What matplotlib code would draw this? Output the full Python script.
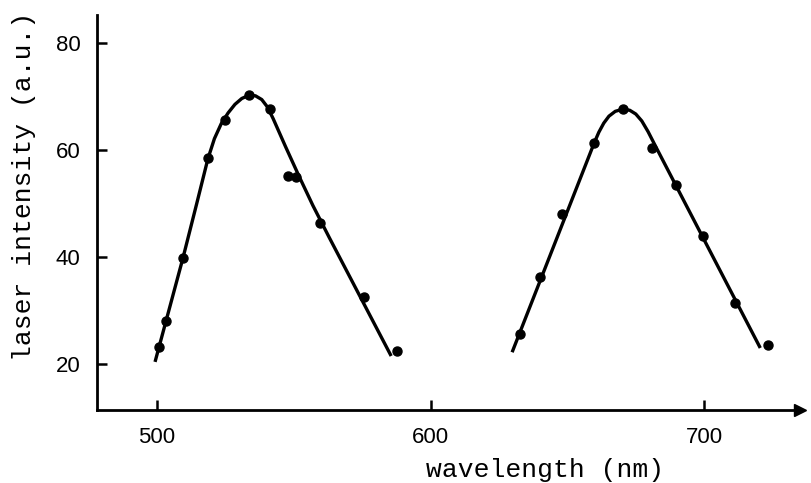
"""
Laser intensity vs. wavelength: two tuning curves with measured points.
"""

import matplotlib
matplotlib.use("Agg")
import matplotlib.pyplot as plt

# measured points, first band
pts1_x = [500.7, 503.3, 509.5, 518.6, 524.9, 533.6, 541.3, 547.9, 550.8, 559.6, 575.7, 587.8]
pts1_y = [23.2, 28.0, 39.8, 58.5, 65.6, 70.3, 67.7, 55.1, 55.0, 46.4, 32.5, 22.4]

# measured points, second band
pts2_x = [632.7, 640.0, 648.1, 659.8, 670.2, 681.0, 689.8, 699.6, 711.3, 723.4]
pts2_y = [25.6, 36.3, 48.0, 61.3, 67.6, 60.4, 53.5, 43.9, 31.4, 23.6]

# hand-drawn curves, vertices
curve1_x = [499.3, 509.5, 514.5, 518.6, 521.0, 523.5, 526.0, 528.5, 531.0, 533.6,
            536.0, 538.3, 540.4, 542.5, 547.0, 552.0, 557.0, 563.0, 585.6]
curve1_y = [20.4, 39.8, 49.9, 58.3, 62.1, 64.9, 66.9, 68.5, 69.6, 70.2,
            70.1, 69.4, 68.0, 65.8, 60.6, 55.0, 49.6, 43.6, 21.5]

curve2_x = [629.8, 659.8, 661.5, 663.3, 665.2, 667.5, 670.2, 672.8, 675.0, 677.2,
            679.5, 682.0, 720.5]
curve2_y = [22.2, 61.3, 63.3, 65.0, 66.3, 67.2, 67.6, 67.4, 66.7, 65.4,
            63.4, 60.9, 23.0]

y_ticks = [20, 40, 60, 80]
x_ticks = [500, 600, 700]


def main() -> None:
    fig = plt.figure(figsize=(8.12, 4.83), dpi=100)
    ax = fig.add_axes([0.1195, 0.151, 0.866, 0.818])

    ax.plot(curve1_x, curve1_y, color="black", lw=2.4, solid_capstyle="butt",
            solid_joinstyle="round")
    ax.plot(curve2_x, curve2_y, color="black", lw=2.4, solid_capstyle="butt",
            solid_joinstyle="round")
    ax.plot(pts1_x, pts1_y, "o", color="black", ms=6.5)
    ax.plot(pts2_x, pts2_y, "o", color="black", ms=6.5)

    ax.set_xlim(478.1, 735.1)
    ax.set_ylim(11.4, 85.2)

    for side in ("top", "right"):
        ax.spines[side].set_visible(False)
    for side in ("left", "bottom"):
        ax.spines[side].set_linewidth(2.0)

    # arrow head at the end of the wavelength axis
    ax.plot([1.0], [0.0], ">", color="black", ms=8, transform=ax.transAxes, clip_on=False)

    ax.set_xticks(x_ticks)
    ax.set_yticks(y_ticks)
    ax.tick_params(direction="in", length=7, width=1.8, labelsize=16, pad=12)
    for lab in ax.get_xticklabels() + ax.get_yticklabels():
        lab.set_family("Liberation Sans")

    ax.set_ylabel("laser intensity (a.u.)", family="Liberation Mono", fontsize=19)
    ax.yaxis.set_label_coords(-0.087, 0.567)
    fig.text(0.671, 0.027, "wavelength (nm)", family="Liberation Mono", fontsize=19,
             ha="center", va="center")

    fig.savefig("out.png", dpi=100)
    plt.close(fig)


if __name__ == "__main__":
    main()
